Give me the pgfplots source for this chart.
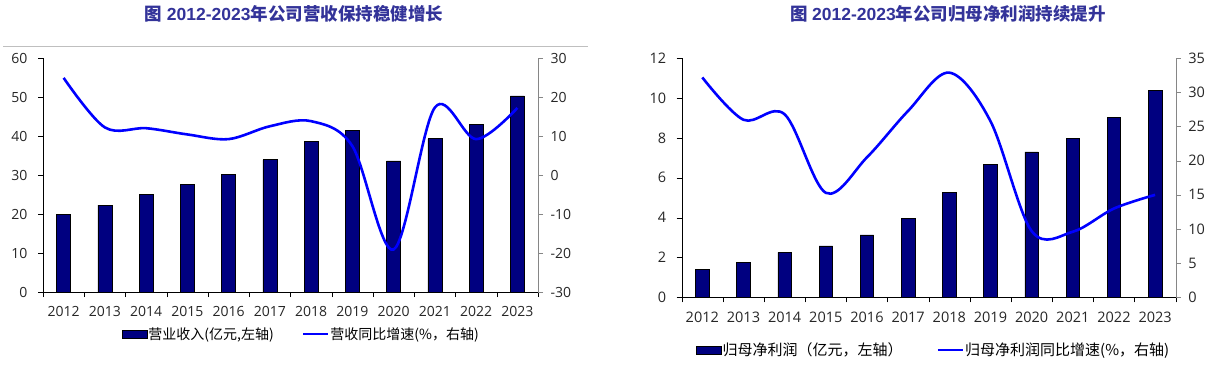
\documentclass[border=0pt]{standalone}
\usepackage{fontspec}
\usepackage{pgfplots}
\pgfplotsset{compat=1.18}
\setmainfont{Open Sans}
\newfontfamily\cjk{Noto Sans CJK SC}
\newfontfamily\arialf{Liberation Sans}
\definecolor{barblue}{RGB}{0,0,128}
\definecolor{titleblue}{RGB}{51,51,153}
\definecolor{axgray}{RGB}{134,134,134}
\definecolor{lineblue}{RGB}{0,0,255}

\pgfplotsset{
  base/.style={scale only axis, xmin=-0.5, xmax=11.5,
    /pgf/number format/assume math mode=true,
    tick label style={font=\fontsize{14}{16}\selectfont, text=black!85},
    tick align=outside, major tick length=5pt, minor tick length=5pt,
    clip=false},
  barax/.style={base, anchor=south west,
    axis x line*=bottom, axis y line*=left, axis line style={black,-},
    xtick={0,...,11},
    xticklabels={2012,2013,2014,2015,2016,2017,2018,2019,2020,2021,2022,2023},
    major x tick style={draw=none},
    minor xtick={-0.5,0.5,1.5,2.5,3.5,4.5,5.5,6.5,7.5,8.5,9.5,10.5,11.5},
    minor x tick style={black},
    ytick style={black},
    yticklabel style={xshift=-7pt},
    xticklabel style={yshift=-6pt}},
  lineax/.style={base, anchor=south west,
    axis y line*=right, axis x line=none, axis line style={axgray,-},
    ytick style={axgray},
    yticklabel style={xshift=4pt}},
}

\begin{document}
\begin{tikzpicture}
\path[use as bounding box] (0pt,0pt) rectangle (1217pt,367pt);

% ---------------- Left chart ----------------
\node[font=\fontsize{17.5}{20}\selectfont\bfseries, text=titleblue] at (294pt,353.5pt)
  {{\cjk\bfseries 图} {\arialf\bfseries 2012-2023}{\cjk\bfseries 年公司营收保持稳健增长}};
\draw[black!25, line width=0.8pt] (3pt,321pt) -- (588pt,321pt);

\begin{axis}[barax, at={(43pt,75pt)}, width=495pt, height=234pt,
  ymin=0, ymax=60, ytick={0,10,...,60}]
\addplot[ybar, bar width=14pt, fill=barblue, draw=black, line width=0.6pt]
  coordinates {(0,19.9) (1,22.3) (2,24.95) (3,27.5) (4,30.1) (5,33.9)
               (6,38.6) (7,41.5) (8,33.6) (9,39.3) (10,42.9) (11,50.3)};
\end{axis}

\begin{axis}[lineax, at={(43pt,75pt)}, width=495pt, height=234pt,
  ymin=-30, ymax=30, ytick={-30,-20,...,30},
  legend columns=2,
  legend style={at={(0.521,-0.179)}, anchor=center, draw=none, fill=none,
    font=\cjk\fontsize{14}{16}\selectfont, nodes={inner sep=1pt},
    /tikz/every even column/.append style={column sep=27pt}}]
\addlegendimage{legend image code/.code={\draw[fill=barblue,draw=black,line width=0.5pt] (0pt,-4pt) rectangle (25pt,4pt);}}
\addlegendentry{营业收入(亿元,左轴)}
\addplot[lineblue, line width=2.6pt, smooth, tension=0.55,
  legend image code/.code={\draw[lineblue, line width=2.6pt] (0pt,0pt) -- (25pt,0pt);}]
  coordinates {(0,24.9) (1,12.2) (2,12.0) (3,10.4) (4,9.2) (5,12.5)
               (6,13.8) (7,7.4) (8,-19.1) (9,17.3) (10,9.2) (11,17.2)};
\addlegendentry{营收同比增速(\%，右轴)}
\end{axis}

% ---------------- Right chart ----------------
\node[font=\fontsize{17.5}{20}\selectfont\bfseries, text=titleblue] at (948pt,353.5pt)
  {{\cjk\bfseries 图} {\arialf\bfseries 2012-2023}{\cjk\bfseries 年公司归母净利润持续提升}};

\begin{axis}[barax, at={(681.7pt,69.7pt)}, width=494pt, height=239pt,
  ymin=0, ymax=12, ytick={0,2,...,12},
  tick label style={font=\fontsize{14.5}{16}\selectfont, text=black!85}]
\addplot[ybar, bar width=13.5pt, fill=barblue, draw=black, line width=0.6pt]
  coordinates {(0,1.42) (1,1.76) (2,2.26) (3,2.58) (4,3.13) (5,3.97)
               (6,5.26) (7,6.66) (8,7.30) (9,7.99) (10,9.03) (11,10.38)};
\end{axis}

\begin{axis}[lineax, at={(681.7pt,69.7pt)}, width=494pt, height=239pt,
  ymin=0, ymax=35, ytick={0,5,...,35},
  tick label style={font=\fontsize{14.5}{16}\selectfont, text=black!85},
  legend columns=2,
  legend style={at={(0.509,-0.2205)}, anchor=center, draw=none, fill=none,
    font=\cjk\fontsize{15}{17}\selectfont, nodes={inner sep=1pt},
    /tikz/every even column/.append style={column sep=33pt}}]
\addlegendimage{legend image code/.code={\draw[fill=barblue,draw=black,line width=0.5pt] (0pt,-4pt) rectangle (25pt,4pt);}}
\addlegendentry{归母净利润（亿元，左轴）}
\addplot[lineblue, line width=2.6pt, smooth, tension=0.55,
  legend image code/.code={\draw[lineblue, line width=2.6pt] (0pt,0pt) -- (25pt,0pt);}]
  coordinates {(0,32.2) (1,26.0) (2,26.8) (3,15.3) (4,20.5) (5,27.3)
               (6,32.9) (7,25.8) (8,9.7) (9,9.6) (10,13.0) (11,15.0)};
\addlegendentry{归母净利润同比增速(\%，右轴)}
\end{axis}
\end{tikzpicture}
\end{document}
